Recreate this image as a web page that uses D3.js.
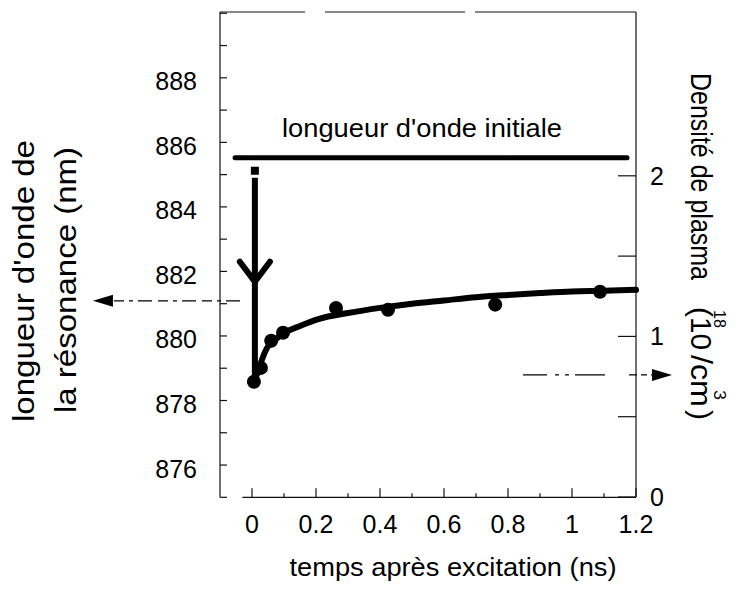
<!DOCTYPE html>
<html><head><meta charset="utf-8">
<script src="https://cdn.jsdelivr.net/npm/d3@7"></script>
<style>body{margin:0;background:#fff}svg{display:block}text{font-family:"Liberation Sans",Arial,sans-serif;fill:#000}</style>
</head><body>
<script>
// ---- data ----
const timeNs = [0.006, 0.028, 0.06, 0.097, 0.2625, 0.425, 0.76, 1.0875];
const wavelengthNm = [878.58, 879.01, 879.85, 880.10, 880.87, 880.81, 880.97, 881.37];
const fitTime = [0.008, 0.019, 0.031, 0.047, 0.072, 0.097, 0.15, 0.21, 0.3, 0.4, 0.5, 0.6, 0.7, 0.8, 0.9, 1.0, 1.1, 1.2];
const fitWavelength = [878.64, 878.89, 879.26, 879.63, 879.88, 880.07, 880.31, 880.53, 880.71, 880.87, 881.0, 881.10, 881.20, 881.27, 881.33, 881.38, 881.40, 881.43];
const initialWavelength = 885.52;
const initialSpan = [-0.053, 1.172];
const dropTime = 0.009;
const dropFrom = 884.9, dropTo = 878.5, dropHead = 881.68, dropMarker = 885.12;
const leftArrowWl = 881.09, leftArrowSpan = [-0.0375, -0.497];
const rightArrowDensity = 0.76, rightArrowSpan = [0.847, 1.3125];
const xTicks = [0, 0.2, 0.4, 0.6, 0.8, 1, 1.2];
const xTickLabels = ["0", "0.2", "0.4", "0.6", "0.8", "1", "1.2"];
const xMinorTicks = [0, 0.1, 0.2, 0.3, 0.4, 0.5, 0.6, 0.7, 0.8, 0.9, 1.0, 1.1, 1.2];
const leftTicks = [876, 878, 880, 882, 884, 886, 888];
const leftMinorTicks = [875, 876, 877, 878, 879, 880, 881, 882, 883, 884, 885, 886, 887, 888, 889, 890];
const rightTicks = [0, 1, 2];
const rightMinorTicks = [0, 0.5, 1, 1.5, 2];

const W = 743, H = 591;
const svg = d3.select("body").append("svg").attr("width", W).attr("height", H);

const x = d3.scaleLinear().domain([-0.1, 1.2]).range([220, 636]);
const y = d3.scaleLinear().domain([875, 890.04]).range([497.3, 12]);
const yR = d3.scaleLinear().domain([0, 3.02]).range([497, 12]);

// frame
const frame = svg.append("g").attr("stroke", "#111").attr("stroke-width", 1.2).attr("fill", "none");
frame.append("line").attr("x1", x(-0.1)).attr("x2", x(1.2)).attr("y1", y(890.04)).attr("y2", y(890.04))
  .attr("stroke-dasharray", "85,20,140,10,170");
frame.append("line").attr("x1", x(-0.1)).attr("x2", x(-0.1)).attr("y1", y(890.04)).attr("y2", y(875));
frame.append("line").attr("x1", x(1.2)).attr("x2", x(1.2)).attr("y1", yR(3.02)).attr("y2", yR(0));
frame.append("line").attr("x1", x(-0.03)).attr("x2", x(1.2)).attr("y1", y(875)).attr("y2", y(875));

// left axis ticks (inward)
svg.append("g").attr("stroke", "#111").attr("stroke-width", 1.2)
  .selectAll("line").data(leftMinorTicks).join("line")
  .attr("x1", x(-0.1)).attr("x2", x(-0.1) + 7).attr("y1", d => y(d)).attr("y2", d => y(d));
svg.append("g").selectAll("text").data(leftTicks).join("text")
  .attr("x", 197).attr("y", d => y(d)).attr("dy", "0.5em").attr("text-anchor", "end")
  .attr("font-size", 25).text(d => d);

// right axis ticks (inward)
svg.append("g").attr("stroke", "#111").attr("stroke-width", 1.2)
  .selectAll("line").data(rightMinorTicks).join("line")
  .attr("x1", x(1.2)).attr("x2", x(1.2) - 18).attr("y1", d => yR(d)).attr("y2", d => yR(d));
svg.append("g").selectAll("text").data(rightTicks).join("text")
  .attr("x", 650).attr("y", d => yR(d)).attr("dy", "0.36em").attr("text-anchor", "start")
  .attr("font-size", 25).text(d => d);

// x axis ticks (inward, up)
svg.append("g").attr("stroke", "#111").attr("stroke-width", 1.2)
  .selectAll("line").data(xMinorTicks).join("line")
  .attr("x1", d => x(d)).attr("x2", d => x(d))
  .attr("y1", y(875)).attr("y2", (d, i) => y(875) - (i % 2 === 0 ? 9 : 4));
svg.append("g").selectAll("text").data(xTicks).join("text")
  .attr("x", d => x(d)).attr("y", 533).attr("text-anchor", "middle")
  .attr("font-size", 25).text((d, i) => xTickLabels[i]);

// axis titles
svg.append("text").attr("x", 453).attr("y", 576).attr("text-anchor", "middle")
  .attr("font-size", 25).attr("textLength", 327).attr("lengthAdjust", "spacingAndGlyphs")
  .text("temps après excitation (ns)");

svg.append("text").attr("transform", "translate(34,281) rotate(-90)").attr("text-anchor", "middle")
  .attr("font-size", 29).attr("textLength", 282).attr("lengthAdjust", "spacingAndGlyphs")
  .text("longueur d'onde de");
svg.append("text").attr("transform", "translate(76,280) rotate(-90)").attr("text-anchor", "middle")
  .attr("font-size", 29).attr("textLength", 266).attr("lengthAdjust", "spacingAndGlyphs")
  .text("la résonance (nm)");

// right title pieces (rotated +90)
const rt = [
  {t: "Densité de plasma", y0: 73, len: 207, fs: 29, bx: 691},
  {t: "(10", y0: 307, len: 43, fs: 29, bx: 691},
  {t: "/cm", y0: 355, len: 52, fs: 29, bx: 691},
  {t: ")", y0: 410, len: 10, fs: 29, bx: 691},
  {t: "18", y0: 310, len: 18, fs: 17, bx: 714},
  {t: "3", y0: 390, len: 10, fs: 17, bx: 714}
];
svg.append("g").selectAll("text").data(rt).join("text")
  .attr("transform", d => `translate(${d.bx},${d.y0}) rotate(90)`)
  .attr("font-size", d => d.fs).attr("textLength", d => d.len).attr("lengthAdjust", "spacingAndGlyphs")
  .text(d => d.t);

// label for the initial wavelength
svg.append("text").attr("x", 422).attr("y", 137).attr("text-anchor", "middle")
  .attr("font-size", 26).attr("textLength", 280).attr("lengthAdjust", "spacingAndGlyphs")
  .text("longueur d'onde initiale");

// initial wavelength line
svg.append("line").attr("x1", x(initialSpan[0])).attr("x2", x(initialSpan[1]))
  .attr("y1", y(initialWavelength)).attr("y2", y(initialWavelength))
  .attr("stroke", "#000").attr("stroke-width", 5).attr("stroke-linecap", "round");

// drop arrow
svg.append("rect").attr("x", x(dropTime) - 4).attr("y", y(dropMarker) - 4).attr("width", 8).attr("height", 8).attr("fill", "#000");
svg.append("line").attr("x1", x(dropTime)).attr("x2", x(dropTime)).attr("y1", y(dropFrom)).attr("y2", y(dropTo))
  .attr("stroke", "#000").attr("stroke-width", 6);
svg.append("path")
  .attr("d", d3.line()([[x(dropTime - 0.047), y(882.3)], [x(dropTime), y(dropHead)], [x(dropTime + 0.047), y(882.3)]]))
  .attr("fill", "none").attr("stroke", "#000").attr("stroke-width", 6).attr("stroke-linecap", "round").attr("stroke-linejoin", "round");

// fitted curve
const line = d3.line().x(d => x(d[0])).y(d => y(d[1])).curve(d3.curveMonotoneX);
svg.append("path").datum(fitTime.map((t, i) => [t, fitWavelength[i]]))
  .attr("d", line).attr("fill", "none").attr("stroke", "#000").attr("stroke-width", 6).attr("stroke-linecap", "round");

// data points
svg.append("g").selectAll("circle").data(timeNs.map((t, i) => [t, wavelengthNm[i]])).join("circle")
  .attr("cx", d => x(d[0])).attr("cy", d => y(d[1])).attr("r", 7).attr("fill", "#000");

// left arrow (to wavelength axis)
svg.append("line").attr("x1", x(leftArrowSpan[0])).attr("x2", x(leftArrowSpan[1]) + 14)
  .attr("y1", y(leftArrowWl)).attr("y2", y(leftArrowWl))
  .attr("stroke", "#000").attr("stroke-width", 1.2).attr("stroke-dasharray", "14,5,4,5,10,6");
{
  const tx = x(leftArrowSpan[1]), ty = y(leftArrowWl);
  svg.append("path").attr("d", d3.line()([[tx, ty], [tx + 20, ty - 6], [tx + 20, ty + 6]]) + "Z").attr("fill", "#000");
}
// right arrow (to density axis)
svg.append("line").attr("x1", x(rightArrowSpan[0])).attr("x2", x(rightArrowSpan[1]) - 18)
  .attr("y1", yR(rightArrowDensity)).attr("y2", yR(rightArrowDensity))
  .attr("stroke", "#000").attr("stroke-width", 1.2).attr("stroke-dasharray", "24,8,4,6,4,6,30");
{
  const tx = x(rightArrowSpan[1]), ty = yR(rightArrowDensity);
  svg.append("path").attr("d", d3.line()([[tx, ty], [tx - 20, ty - 6], [tx - 20, ty + 6]]) + "Z").attr("fill", "#000");
}
</script>
</body></html>
